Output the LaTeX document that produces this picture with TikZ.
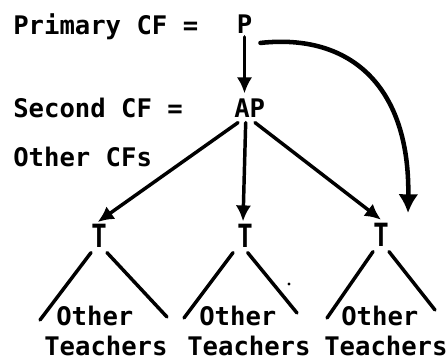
\documentclass[tikz,border=0pt]{standalone}
\usepackage{fontspec}
\setmonofont{DejaVu Sans Mono}
\usetikzlibrary{arrows.meta}
\begin{document}
\begin{tikzpicture}[x=0.75pt,y=-0.75pt,
  lbl/.style={font=\ttfamily\bfseries\fontsize{19.2}{20}\selectfont, inner sep=0pt, anchor=base west},
  tnode/.style={font=\ttfamily\bfseries\fontsize{19.2}{20}\selectfont, inner sep=0pt, anchor=base},
  ln/.style={line width=2.6pt, line cap=round},
  arr/.style={ln, -{Latex[length=12pt,width=11.5pt]}},
  bigarr/.style={line width=3.4pt, line cap=round, -{Latex[length=14pt,width=15pt]}}]
\useasboundingbox (0,0) rectangle (448,360);
% left labels
\node[lbl] (prim) at (13,35) {Primary CF =};
\node[lbl] (sec) at (13,117) {Second CF =};
\node[lbl] (oth) at (13,166) {Other CFs};
% tree nodes
\node[tnode] (P) at (244.5,34) {P};
\node[lbl] (AP) at (234,117) {AP};
\node[tnode] (T1) at (99,247) {\scalebox{1}[1.25]{T}};
\node[tnode] (T2) at (245,247) {\scalebox{1}[1.25]{T}};
\node[tnode] (T3) at (381,246) {\scalebox{1}[1.25]{T}};
% bottom labels
\node[lbl] (o1) at (56,325) {Other};
\node[lbl] (t1) at (44,355) {Teachers};
\node[lbl] (o2) at (199,325) {Other};
\node[lbl] (t2) at (187,355) {Teachers};
\node[lbl] (o3) at (341,325) {Other};
\node[lbl] (t3) at (324,355) {Teachers};
% free ends
\coordinate (cend) at (408,213);
\coordinate (l1) at (40,320);
\coordinate (r1) at (167,317);
\coordinate (l2) at (184,318);
\coordinate (r2) at (297,313);
\coordinate (l3) at (327,318);
\coordinate (r3) at (435,310);
% arrows
\draw[arr] ([yshift=-2pt]P.south) -- ([yshift=3.5pt]P.south |- AP.north);
\draw[arr] ([shift={(3pt,-4pt)}]AP.south west) -- ([shift={(-1pt,1pt)}]T1.north);
\draw[arr] ([shift={(-3pt,-4pt)}]AP.south) -- ([shift={(-1.5pt,1.5pt)}]T2.north);
\draw[arr] ([shift={(4pt,-4pt)}]AP.south) -- ([shift={(0pt,2pt)}]T3.north);
\draw[bigarr] ([shift={(6pt,-6.5pt)}]P.south east) .. controls (352,33) and (410,88) .. (cend);
% legs
\draw[ln] ([yshift=-4pt]T1.south west) -- (l1);
\draw[ln] ([yshift=-4pt]T1.south east) -- (r1);
\draw[ln] ([shift={(-3pt,-4pt)}]T2.south west) -- (l2);
\draw[ln] ([shift={(-4pt,-4pt)}]T2.south east) -- (r2);
\draw[ln] ([yshift=-4pt]T3.south west) -- (l3);
\draw[ln] ([yshift=-4pt]T3.south east) -- (r3);
\fill (289,284) circle (1.2pt);
\end{tikzpicture}
\end{document}
